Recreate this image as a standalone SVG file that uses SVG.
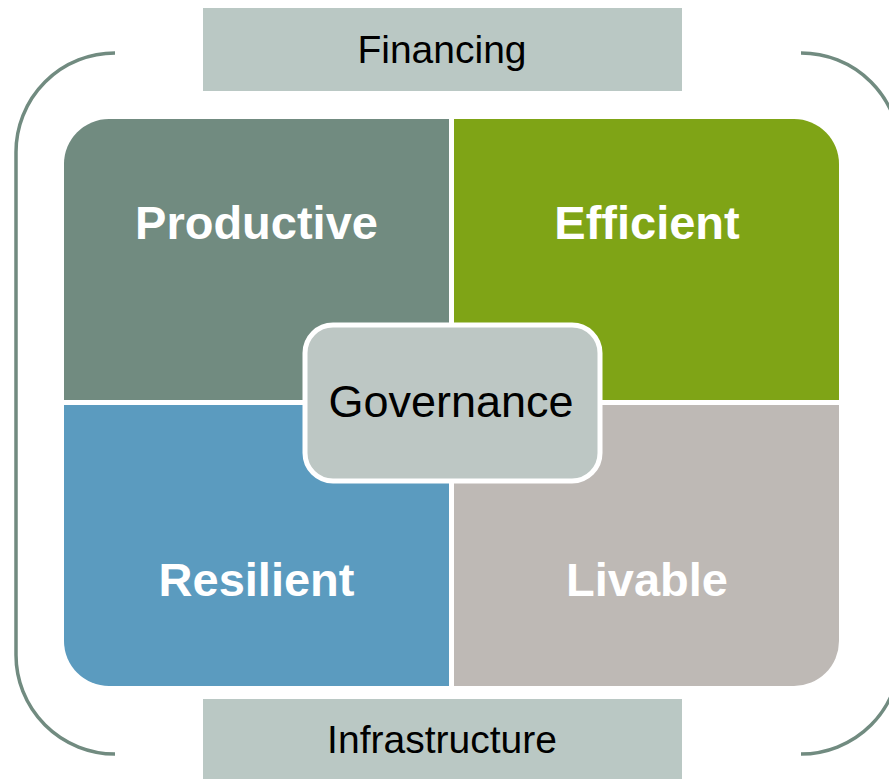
<svg xmlns="http://www.w3.org/2000/svg" width="889" height="779" viewBox="0 0 889 779">
<style>
.bar{fill:#BAC8C4}
.bartxt{font-family:"Liberation Sans",Arial,sans-serif;font-size:39px;fill:#000;text-anchor:middle}
.qtxt{font-family:"Liberation Sans",Arial,sans-serif;font-size:47px;font-weight:bold;fill:#fff;text-anchor:middle}
.gtxt{font-family:"Liberation Sans",Arial,sans-serif;font-size:45px;fill:#000;text-anchor:middle}
.brk{fill:none;stroke:#718B80;stroke-width:3.5}
</style>
<rect width="889" height="779" fill="#fff"/>
<g id="brackets">
<path class="brk" d="M115,53 A99,99 0 0 0 16,152 L16,655 A99,99 0 0 0 115,754"/>
<path class="brk" d="M801,53 A99,99 0 0 1 900,152 L900,655 A99,99 0 0 1 801,754"/>
</g>
<g id="financing">
<rect class="bar" x="203" y="8" width="479" height="83"/>
<text class="bartxt" x="442" y="63">Financing</text>
</g>
<g id="infrastructure">
<rect class="bar" x="203" y="699" width="479" height="80"/>
<text class="bartxt" x="442" y="753">Infrastructure</text>
</g>
<g id="productive">
<path d="M64,164 A45,45 0 0 1 109,119 L449,119 L449,400 L64,400 Z" fill="#718B80"/>
<text class="qtxt" x="256.5" y="239">Productive</text>
</g>
<g id="efficient">
<path d="M454,119 L794,119 A45,45 0 0 1 839,164 L839,400 L454,400 Z" fill="#7FA416"/>
<text class="qtxt" x="647" y="239">Efficient</text>
</g>
<g id="resilient">
<path d="M64,405 L449,405 L449,686 L109,686 A45,45 0 0 1 64,641 Z" fill="#5B9BBF"/>
<text class="qtxt" x="256.5" y="596">Resilient</text>
</g>
<g id="livable">
<path d="M454,405 L839,405 L839,641 A45,45 0 0 1 794,686 L454,686 Z" fill="#BEB9B5"/>
<text class="qtxt" x="647" y="596">Livable</text>
</g>
<g id="governance">
<rect x="305" y="325" width="295" height="156" rx="28" ry="28" fill="#BDC7C4" stroke="#fff" stroke-width="5"/>
<text class="gtxt" x="451" y="417">Governance</text>
</g>
</svg>
